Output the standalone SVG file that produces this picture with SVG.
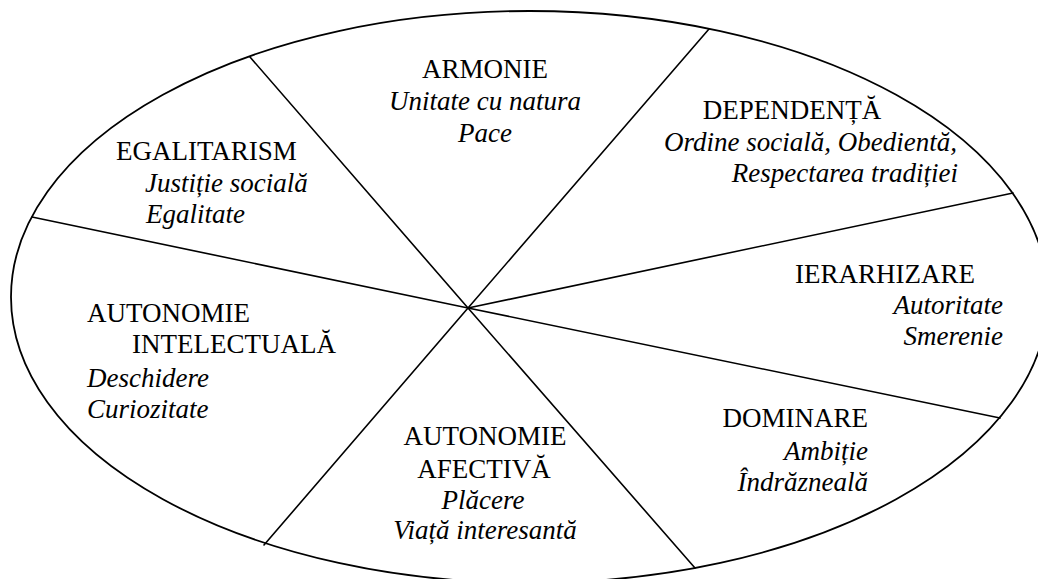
<svg xmlns="http://www.w3.org/2000/svg" width="1038" height="579" viewBox="0 0 1038 579">
<style>
text{font-family:"Liberation Serif","DejaVu Serif","Times New Roman",serif;font-size:27px;fill:#000}
.i{font-style:italic}
.m{text-anchor:middle}
.e{text-anchor:end}
.ln{stroke:#000;stroke-width:1.6;fill:none;stroke-linecap:round}
</style>
<rect width="1038" height="579" fill="#fff"/>
<ellipse id="outline" cx="529.5" cy="297" rx="518.5" ry="286" fill="none" stroke="#000" stroke-width="1.8"/>
<g id="connectors">
<line class="ln" x1="468" y1="308" x2="250" y2="57"/>
<line class="ln" x1="468" y1="308" x2="709" y2="29"/>
<line class="ln" x1="468" y1="308" x2="1013" y2="193"/>
<line class="ln" x1="468" y1="308" x2="1000" y2="418"/>
<line class="ln" x1="468" y1="308" x2="695" y2="568"/>
<line class="ln" x1="468" y1="308" x2="264" y2="545"/>
<line class="ln" x1="468" y1="308" x2="32" y2="217"/>
</g>
<g id="armonie" font-family="Liberation Serif, serif">
<text class="m" x="485" y="78">ARMONIE</text>
<text class="i m" x="485" y="110">Unitate cu natura</text>
<text class="i m" x="485" y="142">Pace</text>
</g>
<g id="dependenta">
<text class="m" x="792" y="119">DEPENDENȚĂ</text>
<text class="i e" x="957" y="151">Ordine socială, Obedientă,</text>
<text class="i e" x="958" y="182">Respectarea tradiției</text>
</g>
<g id="egalitarism">
<text x="116" y="160">EGALITARISM</text>
<text class="i" x="145" y="192">Justiție socială</text>
<text class="i" x="146" y="223">Egalitate</text>
</g>
<g id="ierarhizare">
<text class="m" x="885" y="283">IERARHIZARE</text>
<text class="i e" x="1003" y="314">Autoritate</text>
<text class="i e" x="1003" y="345">Smerenie</text>
</g>
<g id="autonomie-intelectuala">
<text x="87" y="322">AUTONOMIE</text>
<text x="132" y="353">INTELECTUALĂ</text>
<text class="i" x="87" y="387">Deschidere</text>
<text class="i" x="87" y="418">Curiozitate</text>
</g>
<g id="dominare">
<text class="e" x="868" y="427">DOMINARE</text>
<text class="i e" x="868" y="460">Ambiție</text>
<text class="i e" x="868" y="491">Îndrăzneală</text>
</g>
<g id="autonomie-afectiva">
<text class="m" x="485" y="445">AUTONOMIE</text>
<text class="m" x="484" y="478">AFECTIVĂ</text>
<text class="i m" x="483" y="509">Plăcere</text>
<text class="i m" x="485" y="539">Viață interesantă</text>
</g>
</svg>
